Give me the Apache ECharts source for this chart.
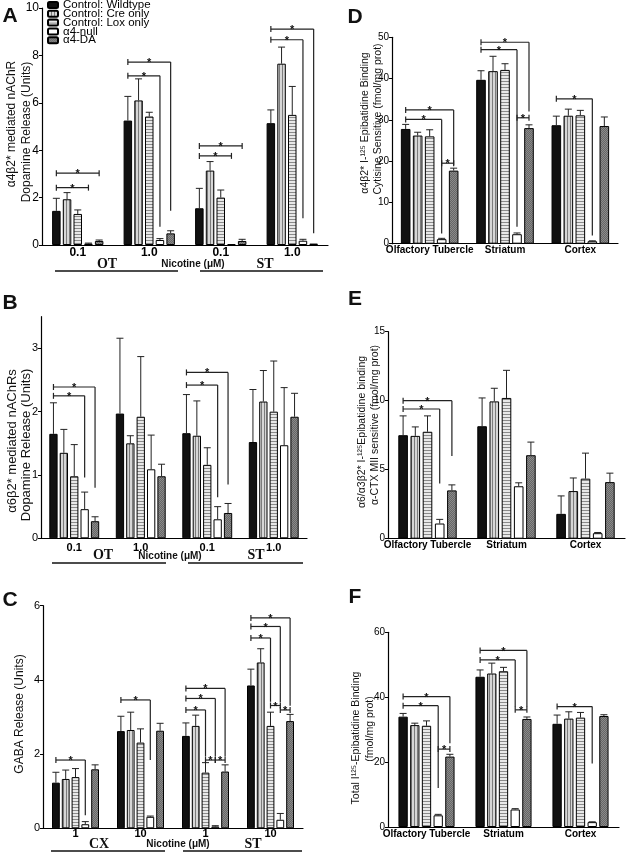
<!DOCTYPE html>
<html><head><meta charset="utf-8">
<script src="https://cdn.jsdelivr.net/npm/echarts@6/dist/echarts.min.js"></script>
<style>html,body{margin:0;padding:0;background:#fff}#c{width:626px;height:853px}</style>
</head><body><div id="c"></div>
<script>
// ---------- DATA ----------
const groupNames = ['Control: Wildtype','Control: Cre only','Control: Lox only','α4-null','α4-DA'];

// Panel A: α4β2* mediated DA release (rows = groups, cols = categories)
const aCats = ['0.1','1.0','0.1','1.0'];
const aMean = [[1.44,5.25,1.55,5.14],[1.93,6.10,3.14,7.65],[1.31,5.42,2.00,5.49],[0.06,0.21,0.04,0.18],[0.17,0.49,0.17,0.06]];
const aSem  = [[0.53,1.02,0.84,0.56],[0.28,0.91,0.38,0.70],[0.17,0.18,0.32,1.20],[0.02,0.06,0.00,0.06],[0.04,0.11,0.07,0.00]];
// brackets: [category, level, fromBar, toBar, dropTo (-1 = tick both ends)]
const aBr = [[0,2.42,0,3,-1],[0,3.03,0,4,-1],[1,7.14,0,3,0.77],[1,7.72,0,4,1.45],[2,3.76,0,3,-1],[2,4.18,0,4,-1],[3,8.66,0,3,1.13],[3,9.11,0,4,0.5]];

// Panel B: α6β2* mediated DA release
const bCats = ['0.1','1.0','0.1','1.0'];
const bMean = [[1.65,1.97,1.66,1.52],[1.35,1.50,1.62,2.16],[0.98,1.92,1.16,2.00],[0.46,1.09,0.30,1.47],[0.27,0.98,0.40,1.92]];
const bSem  = [[0.49,1.19,0.61,0.83],[0.37,0.12,0.55,0.49],[0.50,0.95,0.27,0.80],[0.27,0.54,0.20,0.91],[0.07,0.19,0.15,0.37]];
const bBr = [[0,2.25,0,3,0.96],[0,2.39,0,4,0.8],[2,2.42,0,3,0.65],[2,2.62,0,4,0.85]];

// Panel C: GABA release
const cCats = ['1','10','1','10'];
const cMean = [[1.23,2.62,2.49,3.85],[1.33,2.65,2.76,4.47],[1.38,2.31,1.50,2.76],[0.11,0.31,0.05,0.23],[1.59,2.63,1.53,2.89]];
const cSem  = [[0.28,0.40,0.35,0.44],[0.24,0.48,0.29,0.37],[0.23,0.37,0.27,0.37],[0.07,0.02,0.02,0.17],[0.12,0.20,0.18,0.18]];
const cBr = [[0,1.84,0,3,0.35],[1,3.46,0,3,1.84],[2,3.19,0,2,1.93],[2,3.50,0,3,1.93],[2,3.77,0,4,1.93],[2,1.84,2,3,-1],[2,1.84,3,4,-1],
             [3,5.13,0,2,3.41],[3,5.44,0,3,3.4],[3,5.67,0,4,3.3],[3,3.31,2,3,-1],[3,3.19,3,4,-1]];

// Panel D: α4β2* cytisine-sensitive binding
const regionCats = ['Olfactory Tubercle','Striatum','Cortex'];
const dMean = [[27.8,39.7,28.7],[26.2,41.8,31.0],[26.0,42.1,31.1],[1.1,2.3,0.6],[17.7,28.0,28.5]];
const dSem  = [[1.1,2.2,2.2],[0.8,3.6,1.6],[1.6,1.5,1.2],[0.2,0.3,0.1],[0.6,0.8,2.2]];
const dBr = [[0,30.1,0,3,2.5],[0,32.4,0,4,19],[0,19.5,3,4,-1],[1,47.0,0,3,4.1],[1,48.8,0,4,32],[1,30.5,3,4,-1],[2,35.1,0,3,2]];

// Panel E: α6/α3β2* α-CTX MII sensitive binding
const eMean = [[7.5,8.15,1.8],[7.45,9.95,3.45],[7.75,10.2,4.35],[1.1,3.8,0.4],[3.5,6.05,4.1]];
const eSem  = [[1.4,2.05,1.3],[0.65,0.95,0.95],[1.15,2.0,1.85],[0.3,0.25,0.05],[0.4,0.95,0.65]];
const eBr = [[0,9.4,0,3,4.0],[0,10.0,0,4,6.0]];

// Panel F: total binding
const fMean = [[34.0,46.3,31.8],[31.4,47.3,33.4],[31.2,48.0,33.7],[3.6,5.4,1.5],[21.7,33.3,34.2]];
const fSem  = [[1.0,2.1,2.7],[0.6,3.2,2.1],[1.5,1.2,1.6],[0.3,0.25,0.1],[0.7,0.6,0.4]];
const fBr = [[0,37.4,0,3,12],[0,40.2,0,4,25.8],[0,24.0,3,4,-1],[1,51.5,0,3,37],[1,54.4,0,4,37],[1,36.1,3,4,-1],[2,37.1,0,3,19.6]];

// ---------- STYLE ----------
function pat(w,h,draw){const c=document.createElement('canvas');c.width=w;c.height=h;const g=c.getContext('2d');draw(g);return {image:c,repeat:'repeat'};}
const fills = [
  '#111111',
  pat(3,3,g=>{g.fillStyle='#d6d6d6';g.fillRect(0,0,3,3);g.fillStyle='#7c7c7c';g.fillRect(0,0,1,3);}),
  pat(3,3,g=>{g.fillStyle='#e8e8e8';g.fillRect(0,0,3,3);g.fillStyle='#8a8a8a';g.fillRect(0,0,3,1);}),
  '#ffffff',
  pat(2,2,g=>{g.fillStyle='#666';g.fillRect(0,0,2,2);g.fillStyle='#8a8a8a';g.fillRect(0,0,1,1);g.fillRect(1,1,1,1);})
];
const SANS = '"Liberation Sans", Arial, sans-serif';

const panels = [
  {cats:aCats, mean:aMean, sem:aSem, br:aBr, grid:{left:42,top:8,width:286,height:237}, y:{max:10,interval:2}, bw:8.5, gap:2.2, yFont:12, xFont:12, xm:2},
  {cats:bCats, mean:bMean, sem:bSem, br:bBr, grid:{left:41,top:316.7,width:266,height:221.6}, y:{max:3.5,interval:1,custom:[0,1,2,3]}, bw:8.3, gap:2.1, yFont:11, xFont:11, xm:4},
  {cats:cCats, mean:cMean, sem:cSem, br:cBr, grid:{left:43,top:605.7,width:260,height:222.6}, y:{max:6,interval:2}, bw:7.8, gap:2.0, yFont:11, xFont:11, xm:0},
  {cats:regionCats, mean:dMean, sem:dSem, br:dBr, grid:{left:392,top:37.3,width:226,height:206.4}, y:{max:50,interval:10}, bw:9.6, gap:2.4, yFont:10, xFont:10, xm:2},
  {cats:regionCats, mean:eMean, sem:eSem, br:eBr, grid:{left:388,top:331.7,width:237,height:207}, y:{max:15,interval:5}, bw:9.6, gap:2.6, yFont:10, xFont:10, xm:2},
  {cats:regionCats, mean:fMean, sem:fSem, br:fBr, grid:{left:388,top:632.3,width:231,height:194.7}, y:{max:60,interval:20}, bw:9.3, gap:2.4, yFont:10, xFont:10, xm:2}
];

const grids=[], xAxes=[], yAxes=[], series=[];
panels.forEach((p,k)=>{
  grids.push(Object.assign({containLabel:false},p.grid));
  xAxes.push({type:'category', gridIndex:k, data:p.cats,
    axisLine:{show:true,lineStyle:{color:'#000',width:1.2}}, axisTick:{show:false},
    axisLabel:{interval:0, color:'#000', fontWeight:'bold', fontSize:p.xFont, fontFamily:SANS, margin:p.xm}});
  const ya = {type:'value', gridIndex:k, min:0, max:p.y.max, interval:p.y.interval,
    axisLine:{show:true,lineStyle:{color:'#000',width:1.2}},
    axisTick:{show:true,length:3,lineStyle:{color:'#000'}},
    splitLine:{show:false},
    axisLabel:{color:'#000', fontSize:p.yFont, fontFamily:SANS, margin:3}};
  if(p.y.custom){ya.axisTick.customValues=p.y.custom; ya.axisLabel.customValues=p.y.custom;}
  yAxes.push(ya);
  const step = p.bw+p.gap;
  p.mean.forEach((row,i)=>{
    series.push({type:'bar', name:groupNames[i], xAxisIndex:k, yAxisIndex:k, data:row,
      barWidth:p.bw, barGap:(p.gap/p.bw*100)+'%',
      itemStyle:{color:fills[i], borderColor:'#000', borderWidth:1}, z:2});
  });
  // error bars
  const ed=[];
  p.mean.forEach((row,i)=>row.forEach((m,c)=>ed.push([c,m,p.sem[i][c],i])));
  series.push({type:'custom', xAxisIndex:k, yAxisIndex:k, data:ed, encode:{x:0,y:1}, z:3, silent:true,
    renderItem:(params,api)=>{
      const c=api.value(0), m=api.value(1), s=api.value(2), i=api.value(3);
      if(!(s>0)) return null;
      const base=api.coord([c,m]); const top=api.coord([c,m+s]);
      const x=base[0]+(i-2)*step; const hw=3.5;
      const st={stroke:'#222',lineWidth:1};
      return {type:'group',children:[
        {type:'line',shape:{x1:x,y1:base[1],x2:x,y2:top[1]},style:st},
        {type:'line',shape:{x1:x-hw,y1:top[1],x2:x+hw,y2:top[1]},style:st}]};
    }});
  // significance brackets
  series.push({type:'custom', xAxisIndex:k, yAxisIndex:k, data:p.br, encode:{x:0,y:1}, z:4, silent:true,
    renderItem:(params,api)=>{
      const c=api.value(0), lvl=api.value(1), a=api.value(2), b=api.value(3), d=api.value(4);
      const pt=api.coord([c,lvl]);
      const x1=pt[0]+(a-2)*step, x2=pt[0]+(b-2)*step, y=pt[1];
      const st={stroke:'#222',lineWidth:1.2};
      const ch=[{type:'line',shape:{x1:x1,y1:y,x2:x2,y2:y},style:st},
                {type:'line',shape:{x1:x1,y1:y-3,x2:x1,y2:y+3},style:st}];
      if(d>=0) ch.push({type:'line',shape:{x1:x2,y1:y,x2:x2,y2:api.coord([c,d])[1]},style:st});
      else ch.push({type:'line',shape:{x1:x2,y1:y-3,x2:x2,y2:y+3},style:st});
      ch.push({type:'text',style:{text:'*',x:(x1+x2)/2,y:y+1,align:'center',verticalAlign:'middle',
        font:'bold 11px '+SANS,fill:'#111'}});
      return {type:'group',children:ch};
    }});
});

// ---------- annotations (text & underline groupings) ----------
function T(x,y,text,font,rot){return {type:'text',x:x,y:y,rotation:rot||0,silent:true,
  style:{text:text,font:font,fill:'#111',align:'center',verticalAlign:'middle'}};}
function L(x1,x2,y){return {type:'line',silent:true,shape:{x1:x1,y1:y,x2:x2,y2:y},style:{stroke:'#111',lineWidth:1.6}};}
const R=Math.PI/2, LET='bold 21px '+SANS, SER='bold 14px "Liberation Serif", "DejaVu Serif", serif', NIC='bold 10px '+SANS;
const graphics=[
  T(10,16,'A',LET), T(10,303,'B',LET), T(10,600,'C',LET),
  T(355,17,'D',LET), T(355,299,'E',LET), T(355,597,'F',LET),
  T(12,124,'α4β2* mediated nAChR','12px '+SANS,R), T(27,132,'Dopamine Release (Units)','12px '+SANS,R),
  T(12,441,'α6β2* mediated nAChRs','13px '+SANS,R), T(26,445,'Dopamine Release (Units)','13px '+SANS,R),
  T(20,714,'GABA Release (Units)','12px '+SANS,R),
  T(365,123,'α4β2* I-¹²⁵ Epibatidine Binding','10.5px '+SANS,R), T(378,119,'Cytisine Sensitive (fmol/mg prot)','10.5px '+SANS,R),
  T(362,432,'α6/α3β2* I-¹²⁵Epibatidine binding','10.5px '+SANS,R), T(375,425,'α-CTX MII sensitive (fmol/mg prot)','10.5px '+SANS,R),
  T(356,738,'Total I¹²⁵-Epibatidine Binding','10.5px '+SANS,R), T(370,729,'(fmol/mg prot)','10.5px '+SANS,R),
  T(107,264,'OT',SER), T(193,264,'Nicotine (μM)',NIC), T(265,264,'ST',SER), L(55,178,271), L(200,323,271),
  T(103,555,'OT',SER), T(170,556,'Nicotine (μM)',NIC), T(256,555,'ST',SER), L(52,166,563), L(188,303,563),
  T(99,844,'CX',SER), T(178,844,'Nicotine (μM)',NIC), T(253,844,'ST',SER), L(51,165,851), L(183,302,851)
];

const chart = echarts.init(document.getElementById('c'), null, {renderer:'canvas'});
chart.setOption({
  animation:false, backgroundColor:'#fff',
  legend:{orient:'vertical', left:47, top:-1, padding:0, itemWidth:10, itemHeight:6, itemGap:-3.2, selectedMode:false,
    textStyle:{fontSize:11.5, fontFamily:SANS, color:'#000'}, data:groupNames},
  grid:grids, xAxis:xAxes, yAxis:yAxes, series:series, graphic:graphics
});
</script></body></html>
